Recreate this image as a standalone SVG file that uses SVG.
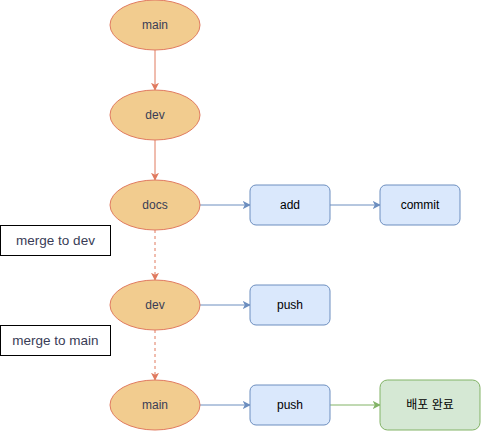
<svg xmlns="http://www.w3.org/2000/svg" width="481" height="431" viewBox="0 0 481 431">
<style>
text{font-family:"Liberation Sans",Arial,sans-serif;font-size:12px;text-anchor:middle;dominant-baseline:central}
.e{fill:#F2CC8F;stroke:#E07A5F;stroke-width:1}
.et{fill:#393C56}
.b{fill:#dae8fc;stroke:#6c8ebf;stroke-width:1}
.g{fill:#d5e8d4;stroke:#82b366;stroke-width:1}
.bt{fill:#000}
.l{fill:#fff;stroke:#000;stroke-width:1}
.lt{fill:#393C56;font-size:13.5px}
.co{stroke:#E07A5F;fill:none;stroke-width:1}
.cb{stroke:#6c8ebf;fill:none;stroke-width:1}
.cg{stroke:#82b366;fill:none;stroke-width:1}
</style>
<defs>
<marker id="ao" viewBox="0 0 10 10" refX="9" refY="5" markerWidth="8" markerHeight="8" markerUnits="userSpaceOnUse" orient="auto"><path d="M0,0 L10,5 L0,10 L2.5,5 Z" fill="#E07A5F"/></marker>
<marker id="ab" viewBox="0 0 10 10" refX="9" refY="5" markerWidth="8" markerHeight="8" markerUnits="userSpaceOnUse" orient="auto"><path d="M0,0 L10,5 L0,10 L2.5,5 Z" fill="#6c8ebf"/></marker>
<marker id="ag" viewBox="0 0 10 10" refX="9" refY="5" markerWidth="8" markerHeight="8" markerUnits="userSpaceOnUse" orient="auto"><path d="M0,0 L10,5 L0,10 L2.5,5 Z" fill="#82b366"/></marker>
</defs>
<g id="connectors">
<path class="co" d="M155,50 V90" marker-end="url(#ao)"/>
<path class="co" d="M155,140 V180" marker-end="url(#ao)"/>
<path class="co" d="M155,230 V280" stroke-dasharray="3,3" marker-end="url(#ao)"/>
<path class="co" d="M155,330 V380" stroke-dasharray="3,3" marker-end="url(#ao)"/>
<path class="cb" d="M200,205 H250" marker-end="url(#ab)"/>
<path class="cb" d="M330,205 H380" marker-end="url(#ab)"/>
<path class="cb" d="M200,305 H250" marker-end="url(#ab)"/>
<path class="cb" d="M200,405 H250" marker-end="url(#ab)"/>
<path class="cg" d="M330,405 H380" marker-end="url(#ag)"/>
</g>
<g id="n-main1"><ellipse class="e" cx="155" cy="25" rx="45" ry="25"/><text class="et" x="155" y="25">main</text></g>
<g id="n-dev1"><ellipse class="e" cx="155" cy="115" rx="45" ry="25"/><text class="et" x="155" y="115">dev</text></g>
<g id="n-docs"><ellipse class="e" cx="155" cy="205" rx="45" ry="25"/><text class="et" x="155" y="205">docs</text></g>
<g id="n-dev2"><ellipse class="e" cx="155" cy="305" rx="45" ry="25"/><text class="et" x="155" y="305">dev</text></g>
<g id="n-main2"><ellipse class="e" cx="155" cy="405" rx="45" ry="25"/><text class="et" x="155" y="405">main</text></g>
<g id="n-add"><rect class="b" x="250" y="185" width="80" height="40" rx="6"/><text class="bt" x="290" y="205">add</text></g>
<g id="n-commit"><rect class="b" x="380" y="185" width="80" height="40" rx="6"/><text class="bt" x="420" y="205">commit</text></g>
<g id="n-push1"><rect class="b" x="250" y="285" width="80" height="40" rx="6"/><text class="bt" x="290" y="305">push</text></g>
<g id="n-push2"><rect class="b" x="250" y="385" width="80" height="40" rx="6"/><text class="bt" x="290" y="405">push</text></g>
<g id="n-done"><rect class="g" x="380" y="380" width="100" height="50" rx="7.5"/><text class="bt" x="430" y="405" style="font-family:'Liberation Sans','Noto Sans CJK KR',sans-serif">배포 완료</text></g>
<g id="n-label1"><rect class="l" x="0.5" y="225.5" width="110" height="30"/><text class="lt" x="55.5" y="240.5">merge to dev</text></g>
<g id="n-label2"><rect class="l" x="0.5" y="325.5" width="110" height="30"/><text class="lt" x="55.5" y="340.5">merge to main</text></g>
</svg>
